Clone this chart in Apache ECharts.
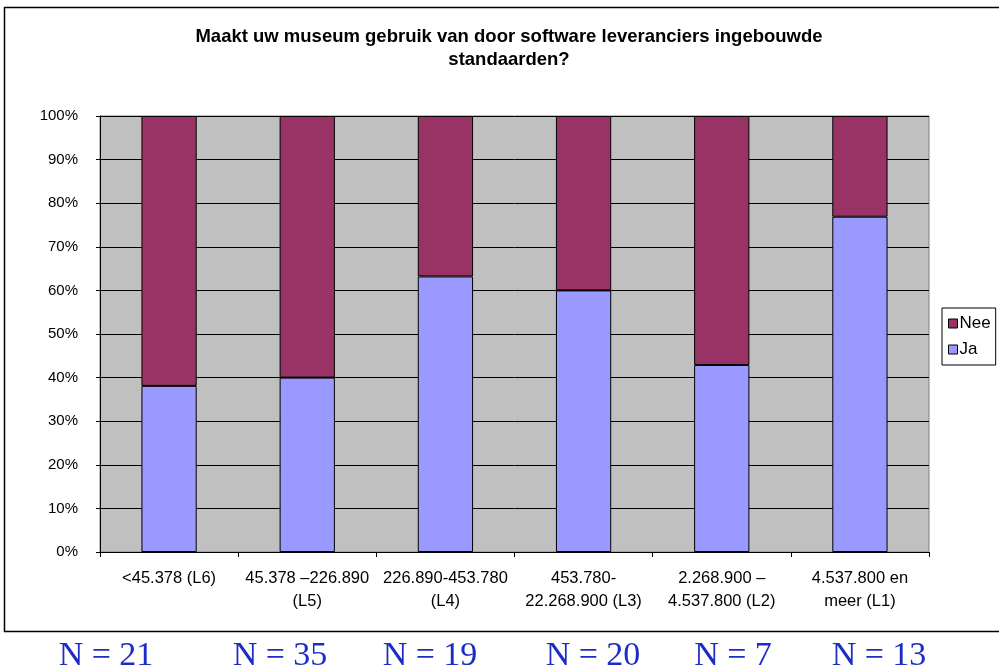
<!DOCTYPE html>
<html>
<head>
<meta charset="utf-8">
<script src="https://cdn.jsdelivr.net/npm/echarts@6/dist/echarts.min.js"></script>
<style>
html,body{margin:0;padding:0;background:#fff;}
#chart{width:999px;height:672px;}
</style>
</head>
<body>
<div id="chart"></div>
<script>
const titleText = 'Maakt uw museum gebruik van door software leveranciers ingebouwde\nstandaarden?';
const categories = [
  '<45.378 (L6)',
  '45.378 \u2013226.890\n(L5)',
  '226.890-453.780\n(L4)',
  '453.780-\n22.268.900 (L3)',
  '2.268.900 \u2013\n4.537.800 (L2)',
  '4.537.800 en\nmeer (L1)'
];
const jaValues = [38.1, 40.0, 63.2, 60.0, 42.9, 76.9];
const neeValues = [61.9, 60.0, 36.8, 40.0, 57.1, 23.1];
const yTicks = [0, 10, 20, 30, 40, 50, 60, 70, 80, 90, 100];
const nLabels = ['N = 21', 'N = 35', 'N = 19', 'N = 20', 'N = 7', 'N = 13'];
const nLabelX = [106, 280, 430, 593, 733, 879];

const chart = echarts.init(document.getElementById('chart'), null, {renderer: 'canvas'});

const graphics = [
  {type: 'rect', shape: {x: 4.5, y: 7.5, width: 1000, height: 624}, style: {fill: 'none', stroke: '#000', lineWidth: 1.5}, silent: true, z: -10},
  {type: 'text', x: 509, y: 25, style: {text: titleText, fill: '#000', font: 'bold 18.5px "Liberation Sans", Arial, sans-serif', textAlign: 'center', lineHeight: 23}}
];
nLabels.forEach((t, i) => {
  graphics.push({type: 'text', x: nLabelX[i], y: 656, style: {text: t, fill: '#1c2cc4', font: '34px "Liberation Serif", "Times New Roman", serif', textAlign: 'center', textVerticalAlign: 'middle'}});
});

chart.setOption({
  animation: false,
  backgroundColor: '#fff',
  graphic: graphics,
  legend: {
    data: ['Nee', 'Ja'],
    orient: 'vertical',
    left: 942,
    top: 308,
    padding: [7, 5, 7, 6],
    itemGap: 9,
    itemWidth: 9,
    itemHeight: 9,
    icon: 'rect',
    borderColor: '#000',
    borderWidth: 1,
    backgroundColor: '#fff',
    textStyle: {fontFamily: '"Liberation Sans", Arial, sans-serif', fontSize: 17, color: '#000', padding: [0, 0, 0, -3]},
    itemStyle: {borderColor: '#000', borderWidth: 1}
  },
  grid: {
    left: 100, right: 70, top: 116, bottom: 120,
    show: true, backgroundColor: '#c0c0c0', borderColor: '#808080', borderWidth: 1,
    containLabel: false
  },
  xAxis: {
    type: 'category',
    data: categories,
    axisLine: {lineStyle: {color: '#000', width: 1}},
    axisTick: {show: true, length: 5, lineStyle: {color: '#000'}},
    axisLabel: {color: '#000', fontFamily: '"Liberation Sans", Arial, sans-serif', fontSize: 16.5, lineHeight: 23, margin: 15, interval: 0}
  },
  yAxis: {
    type: 'value',
    min: yTicks[0], max: yTicks[yTicks.length - 1], interval: 10,
    axisLine: {show: true, lineStyle: {color: '#000', width: 1}},
    axisTick: {show: true, length: 4, lineStyle: {color: '#000'}},
    axisLabel: {color: '#000', fontFamily: '"Liberation Sans", Arial, sans-serif', fontSize: 15, margin: 22, formatter: '{value}%'},
    splitLine: {show: true, lineStyle: {color: '#000', width: 1}}
  },
  series: [
    {name: 'Ja', type: 'bar', stack: 'total', data: jaValues, barWidth: '40%',
     itemStyle: {color: '#9999ff', borderColor: '#000', borderWidth: 1}},
    {name: 'Nee', type: 'bar', stack: 'total', data: neeValues, barWidth: '40%',
     itemStyle: {color: '#993366', borderColor: '#000', borderWidth: 1}}
  ]
});
</script>
</body>
</html>
